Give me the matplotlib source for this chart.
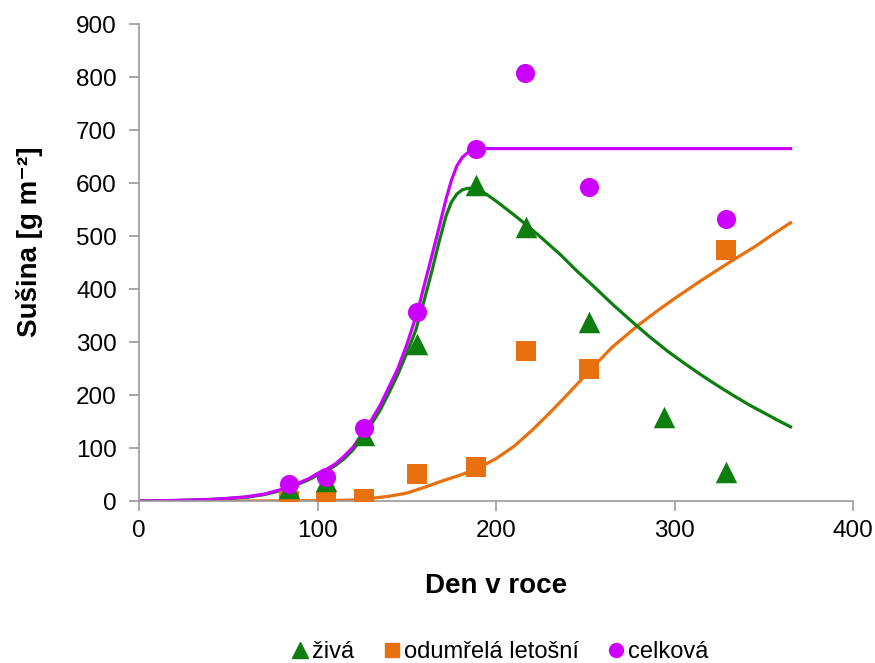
import matplotlib
matplotlib.use("Agg")
import matplotlib.pyplot as plt
from matplotlib.lines import Line2D

plt.rcParams['font.family'] = ['Liberation Sans', 'DejaVu Sans']

# measured points
days_ziva = [84, 105, 126, 156, 189, 217, 252, 294, 329]
ziva = [25, 38, 125, 297, 596, 517, 338, 158, 55]

days_odum = [84, 105, 126, 156, 189, 217, 252, 329]
odum = [0, 0, 3, 51, 65, 283, 250, 474]

days_celk = [84, 105, 126, 156, 189, 216, 252, 329]
celk = [32, 45, 137, 357, 664, 808, 593, 533]

# fitted curves
curve_ziva_x = [0, 10, 20, 30, 40, 50, 60, 70, 80, 84, 90, 95, 100, 105, 110, 115, 120,
                126, 130, 135, 140, 145, 150, 155, 160, 164, 168, 172, 175, 178, 181,
                184, 187, 190, 195, 200, 210, 217, 226, 236, 245, 255, 265, 277, 286,
                296, 305, 314, 323, 333, 342, 352, 358, 365]
curve_ziva_y = [0, 0.5, 1, 2, 3, 5, 7, 12, 20, 26, 33, 40, 49, 57, 67, 80, 97,
                124, 144, 171, 204, 239, 279, 322, 382, 433, 488, 538, 564, 579, 587,
                590, 590, 587, 578, 566, 540, 521, 495, 465, 435, 404, 372, 336, 310,
                283, 261, 240, 220, 199, 181, 163, 152, 140]

curve_odum_x = [0, 30, 60, 90, 110, 120, 130, 140, 150, 160, 170, 180, 190, 200, 210,
                220, 230, 240, 253, 265, 279, 290, 300, 314, 325, 333, 345, 355, 365]
curve_odum_y = [0, 0, 0, 0.5, 1, 2, 5, 9, 15, 26, 38, 49, 62, 80, 103,
                133, 166, 201, 248, 290, 330, 358, 382, 414, 438, 455, 480, 503, 525]

curve_celk_x = [0, 10, 20, 30, 40, 50, 60, 70, 80, 84, 90, 95, 100, 105, 110, 115, 120,
                126, 130, 135, 140, 145, 150, 156, 160, 164, 168, 172, 175, 178, 181,
                184, 187, 190, 195, 365]
curve_celk_y = [0, 0.5, 1, 2, 3, 5, 8, 13, 22, 28, 35, 42, 52, 60, 70, 85, 102,
                132, 152, 180, 215, 250, 295, 357, 410, 462, 515, 570, 605, 632, 648,
                657, 662, 664, 665, 665]

legend_labels = ['živá', 'odumřelá letošní', 'celková']

c_green = '#0E7E0E'
c_orange = '#E8700F'
c_mag = '#CC00FF'

fig = plt.figure(figsize=(8.75, 6.63), dpi=100)
ax = fig.add_axes([0.1589, 0.2443, 0.9749 - 0.1589, 0.9638 - 0.2443])

ax.plot(curve_odum_x, curve_odum_y, color=c_orange, lw=2.3, zorder=2,
        solid_joinstyle='round')
ax.plot(curve_ziva_x, curve_ziva_y, color=c_green, lw=2.3, zorder=2,
        solid_joinstyle='round')
ax.plot(curve_celk_x, curve_celk_y, color=c_mag, lw=2.3, zorder=2,
        solid_joinstyle='round')

ax.scatter(days_odum, odum, marker='s', s=200, color=c_orange, zorder=3, linewidths=0)
ax.scatter(days_ziva, ziva, marker='^', s=240, color=c_green, zorder=4, linewidths=0)
ax.scatter(days_celk, celk, marker='o', s=190, color=c_mag, zorder=5, linewidths=0)

ax.set_xlim(0, 400)
ax.set_ylim(0, 900)
ax.set_xticks([0, 100, 200, 300, 400])
ax.set_yticks(range(0, 901, 100))
for s in ['top', 'right']:
    ax.spines[s].set_visible(False)
for s in ['left', 'bottom']:
    ax.spines[s].set_color('#9a9a9a')
    ax.spines[s].set_linewidth(1.2)
ax.tick_params(axis='both', colors='#9a9a9a', length=7, width=1.2, labelsize=17.5,
               labelcolor='black', direction='out')
ax.tick_params(axis='x', pad=7)
ax.tick_params(axis='y', pad=9)

ax.set_xlabel('Den v roce', fontsize=20, fontweight='bold')
ax.set_ylabel('Sušina [g m\u207b\u00b2]', fontsize=20, fontweight='bold')
ax.yaxis.set_label_coords(-0.135, 0.543)
ax.xaxis.set_label_coords(0.5, -0.15)

handles = [Line2D([], [], marker='^', color=c_green, ls='none', markersize=11),
           Line2D([], [], marker='s', color=c_orange, ls='none', markersize=10.5),
           Line2D([], [], marker='o', color=c_mag, ls='none', markersize=10)]
fig.legend(handles, legend_labels, loc='center', bbox_to_anchor=(0.571, 0.016),
           ncol=3, frameon=False, fontsize=17, handletextpad=0.1, columnspacing=1.2,
           handlelength=0.8, borderpad=0.0)

fig.savefig('out.png', dpi=100)
